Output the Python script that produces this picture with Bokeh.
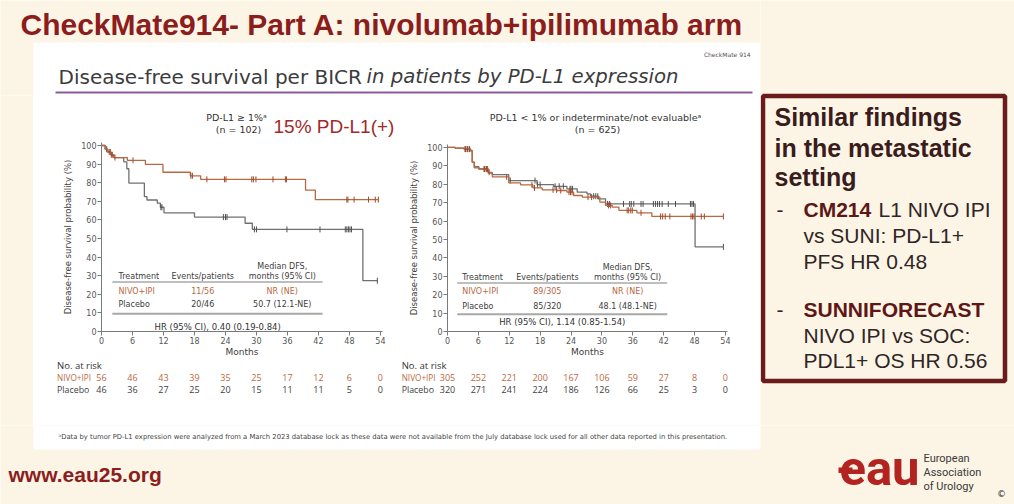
import numpy as np
from bokeh.plotting import figure
from bokeh.layouts import row, column
from bokeh.models import Range1d, Label, ColumnDataSource, FixedTicker
from bokeh.core.properties import value
from bokeh.embed import file_html
from bokeh.resources import INLINE

CREAM = "#fcf5e6"
WHITE = "#ffffff"
MAROON = "#8b1d1d"
NIVO_C = "#b8693f"
NIVO_TICK = "#a2482a"
PBO_C = "#707070"
PBO_TICK = "#505050"
TXT = "#404040"
SANS = "DejaVu Sans"
OPEN = "Open Sans"
ARIAL = "Liberation Sans"

# ---------------- data ----------------
month_ticks = [0, 6, 12, 18, 24, 30, 36, 42, 48, 54]
pct_ticks = [0, 10, 20, 30, 40, 50, 60, 70, 80, 90, 100]

# PD-L1 >= 1% : Kaplan-Meier steps (months, DFS %)
pos_nivo_t = [0, 0.7, 1.2, 1.8, 2.4, 5.0, 8.5, 11.9, 17.2, 19.2, 39.5, 41.4, 53.6]
pos_nivo_s = [100, 98.0, 96.5, 95.0, 93.5, 92.0, 89.8, 85.6, 83.7, 81.8, 76.0, 70.9, 70.9]
pos_nivo_cens = [1.5, 1.9, 2.1, 2.6, 6.1, 17.3, 17.6, 20.4, 23.8, 24.1, 29.1, 29.4,
                 29.9, 33.2, 35.6, 35.8, 47.5, 47.7, 48.9, 51.7, 53.0, 53.6]
pos_pbo_t = [0, 0.7, 1.2, 1.8, 2.4, 4.3, 4.9, 5.3, 8.3, 8.8, 10.8, 11.4, 12.1, 18.0,
             27.8, 29.2, 50.6, 53.4]
pos_pbo_s = [100, 98.0, 96.5, 95.0, 93.5, 91.2, 87.5, 79.8, 72.5, 70.7, 69.0, 66.8,
             63.8, 61.5, 58.2, 54.9, 27.3, 27.3]
pos_pbo_cens = [1.0, 1.7, 11.5, 11.7, 23.6, 24.0, 24.3, 29.6, 30.0, 35.9, 42.3, 47.2,
                47.5, 47.8, 48.1, 48.4, 53.4]

# PD-L1 < 1% or indeterminate / not evaluable
neg_nivo_t = [0, 1.5, 3.2, 4.5, 4.8, 5.2, 6.1, 7.9, 8.7, 11.9, 14.2, 16.6, 18.4, 21.3,
              23.2, 24.5, 26.2, 29.6, 30.7, 32.0, 33.3, 36.8, 39.7, 53.6]
neg_nivo_s = [100, 99.6, 99.1, 98.2, 92.0, 88.9, 88.3, 86.5, 84.0, 80.8, 79.7, 78.0,
              77.0, 76.6, 75.7, 73.9, 73.0, 70.3, 68.5, 67.6, 65.8, 64.5, 62.5, 62.5]
neg_nivo_cens = [3.5, 3.9, 4.2, 7.2, 7.5, 7.8, 8.1, 11.5, 16.4, 16.9, 20.5, 21.2, 22.0,
                 23.6, 23.9, 24.2, 27.3, 28.0, 31.3, 31.7, 34.9, 35.2, 35.6, 35.9, 37.6,
                 41.4, 41.8, 42.3, 43.2, 47.3, 47.6, 47.9, 49.3, 49.9, 53.6]
neg_pbo_t = [0, 1.5, 3.2, 4.5, 4.8, 5.2, 6.1, 7.9, 8.7, 11.9, 17.4, 20.6, 23.2, 25.2,
             27.1, 27.8, 29.3, 30.7, 48.1, 53.6]
neg_pbo_s = [100, 99.6, 99.1, 98.2, 92.0, 89.5, 88.3, 86.0, 85.2, 82.0, 79.8, 78.9,
             77.5, 75.7, 74.8, 73.5, 72.1, 69.3, 46.0, 46.0]
neg_pbo_cens = [3.4, 3.8, 4.3, 7.1, 7.6, 12.2, 17.0, 17.5, 18.0, 20.9, 21.7, 22.5, 23.8,
                24.0, 24.3, 28.4, 28.8, 29.2, 31.1, 31.5, 34.2, 35.4, 35.7, 36.2, 37.6,
                38.0, 40.0, 40.4, 40.8, 41.2, 41.7, 42.9, 44.3, 47.2, 47.5, 47.8, 53.6]

# numbers at risk
pos_risk_nivo = [56, 46, 43, 39, 35, 25, 17, 12, 6, 0]
pos_risk_pbo = [46, 36, 27, 25, 20, 15, 11, 11, 5, 0]
neg_risk_nivo = [305, 252, 221, 200, 167, 106, 59, 27, 8, 0]
neg_risk_pbo = [320, 271, 241, 224, 186, 126, 66, 25, 3, 0]

# summary tables
pos_table = [("NIVO+IPI", "11/56", "NR (NE)"), ("Placebo", "20/46", "50.7 (12.1-NE)")]
neg_table = [("NIVO+IPI", "89/305", "NR (NE)"), ("Placebo", "85/320", "48.1 (48.1-NE)")]
pos_hr = "HR (95% CI), 0.40 (0.19-0.84)"
neg_hr = "HR (95% CI), 1.14 (0.85-1.54)"

X_END = 54.4
Y_END = 101.6


# ---------------- helpers ----------------
def bare(p, bg):
    p.outline_line_color = None
    p.background_fill_color = bg
    p.border_fill_color = bg
    p.frame_align = False
    return p


def decor(w, h, x0, y0, bg=CREAM):
    """Figure whose data coordinates are page pixels (y downward)."""
    p = figure(width=w, height=h, x_range=Range1d(x0, x0 + w), y_range=Range1d(y0 + h, y0),
               output_backend="svg", toolbar_location=None, min_border=0,
               x_axis_type=None, y_axis_type=None)
    return bare(p, bg)


def txt(p, x, y, s, size, color, font=SANS, style="normal", align="left"):
    p.text(x=[x], y=[y], text=[s], text_font=value(font), text_font_size=value(f"{size}px"),
           text_color=color, text_font_style=value(style), text_align=value(align),
           text_baseline=value("middle"))


def lab(p, x, y, s, size, color, style="normal", align="left", font=SANS):
    p.add_layout(Label(x=x, y=y, text=s, text_font=font, text_font_size=f"{size}px",
                       text_color=color, text_font_style=style, text_align=align,
                       text_baseline="middle"))


def step_value(t, s, c):
    idx = np.searchsorted(np.asarray(t), np.asarray(c), side="right") - 1
    return np.asarray(s)[idx]


def km_chart(w, h, ml, mr, mt, mb, arms, table, hr, geo):
    p = figure(width=w, height=h, x_range=Range1d(0, X_END), y_range=Range1d(0, Y_END),
               output_backend="svg", toolbar_location=None,
               min_border_left=ml, min_border_right=mr, min_border_top=mt, min_border_bottom=mb)
    bare(p, WHITE)
    p.xgrid.visible = False
    p.ygrid.visible = False
    p.xaxis.ticker = FixedTicker(ticks=month_ticks)
    p.yaxis.ticker = FixedTicker(ticks=pct_ticks)
    p.axis.minor_tick_line_color = None
    p.axis.major_tick_in = 0
    p.axis.major_tick_out = 4
    p.axis.axis_line_color = "#7a7a7a"
    p.axis.major_tick_line_color = "#7a7a7a"
    p.axis.major_label_text_font = SANS
    p.axis.major_label_text_font_size = "8px"
    p.axis.major_label_text_color = "#555555"
    p.axis.major_label_standoff = 1
    p.xaxis.axis_label = "Months"
    p.yaxis.axis_label = "Disease-free survival probability (%)"
    p.axis.axis_label_text_font = SANS
    p.axis.axis_label_text_font_style = "normal"
    p.axis.axis_label_text_color = TXT
    p.xaxis.axis_label_text_font_size = "9px"
    p.yaxis.axis_label_text_font_size = "8.5px"
    p.xaxis.axis_label_standoff = 0
    p.yaxis.axis_label_standoff = 5

    # survival curves: placebo underneath, NIVO+IPI on top
    for t, s, cens, col, tick_col in arms:
        p.step(x=t, y=s, mode="after", line_color=col, line_width=1.3)
        p.scatter(x=cens, y=step_value(t, s, cens), marker="dash", angle=np.pi / 2,
                  size=6, line_color=tick_col, line_width=1.0)

    # summary table inside the plot area
    tx, ex, mx, lx0, lx1, y_md, y_hd, y_l1, y_r1, y_r2, y_l2, y_hr, hx = geo
    lab(p, mx, y_md, "Median DFS,", 8, TXT, align="center")
    lab(p, mx, y_hd, "months (95% CI)", 8, TXT, align="center")
    lab(p, tx, y_hd, "Treatment", 8, TXT)
    lab(p, ex, y_hd, "Events/patients", 8, TXT, align="center")
    p.segment(x0=[lx0], y0=[y_l1], x1=[lx1], y1=[y_l1], line_color="#a8a8a8", line_width=1.5)
    for (name, ev, med), yy, col in zip(table, [y_r1, y_r2], [NIVO_C, TXT]):
        lab(p, tx, yy, name, 8, col)
        lab(p, ex, yy, ev, 8, col, align="center")
        lab(p, mx, yy, med, 8, col, align="center")
    p.segment(x0=[lx0], y0=[y_l2], x1=[lx1], y1=[y_l2], line_color="#a8a8a8", line_width=2)
    lab(p, hx, y_hr, hr, 8.5, "#333333", align="center")
    return p


def risk_table(w, ml, mr, y0, h, label_x, nivo_vals, pbo_vals):
    """Numbers at risk, on the same month scale as the chart above it."""
    k = (w - ml - mr) / X_END
    p = figure(width=w, height=h, x_range=Range1d(-ml / k, X_END + mr / k),
               y_range=Range1d(y0 + h, y0), output_backend="svg", toolbar_location=None,
               min_border=0, x_axis_type=None, y_axis_type=None)
    bare(p, WHITE)
    txt(p, label_x, 365, "No. at risk", 9.5, "#333333", font=OPEN)
    txt(p, label_x, 377, "NIVO+IPI", 8.2, NIVO_C, font=OPEN)
    txt(p, label_x, 389, "Placebo", 8.8, TXT, font=OPEN)
    for vals, yy, col in [(nivo_vals, 377, NIVO_C), (pbo_vals, 389, TXT)]:
        src = ColumnDataSource(dict(x=month_ticks, y=[yy] * len(month_ticks),
                                    text=[str(v) for v in vals]))
        p.text(x="x", y="y", text="text", source=src, text_align=value("center"),
               text_baseline=value("middle"), text_font=value(OPEN),
               text_font_size=value("9px"), text_color=col)
    return p


# ---------------- header ----------------
head = decor(760, 95, 0, 0)
head.quad(left=[33], right=[760], top=[42], bottom=[95], fill_color=WHITE, line_color=None)
txt(head, 20, 24, "CheckMate914- Part A: nivolumab+ipilimumab arm", 30, MAROON,
    font=ARIAL, style="bold")
txt(head, 752, 54, "CheckMate  914", 6, "#555555", align="right")
txt(head, 58, 76, "Disease-free survival per BICR", 20, "#3c3c3c")
txt(head, 366, 76, "in patients by PD-L1 expression", 19.7, "#3c3c3c", style="italic")
head.segment(x0=[55], y0=[92], x1=[752], y1=[92], line_color="#8a5c9c", line_width=2)

# ---------------- left chart: PD-L1 >= 1% ----------------
strip = decor(33, 330, 0, 95)

t1 = decor(367, 42, 33, 95, WHITE)
txt(t1, 236, 117, "PD-L1 \u2265 1%\u1d43", 9.5, "#333333", align="center")
txt(t1, 238, 129, "(n = 102)", 9.5, "#333333", align="center")
txt(t1, 273, 126, "15% PD-L1(+)", 19, "#9e2a2b", font=ARIAL)

c1 = km_chart(
    367, 222, 68, 18, 5, 26,
    [(pos_pbo_t, pos_pbo_s, pos_pbo_cens, PBO_C, PBO_TICK),
     (pos_nivo_t, pos_nivo_s, pos_nivo_cens, NIVO_C, NIVO_TICK)],
    pos_table, pos_hr,
    (3.3, 19.6, 35.0, 2.1, 42.8, 35.1, 29.8, 26.6, 21.3, 14.4, 9.6, 2.4, 22.5))
r1 = risk_table(367, 68, 18, 359, 66, -8.6, pos_risk_nivo, pos_risk_pbo)

# ---------------- right chart: PD-L1 < 1% ----------------
t2 = decor(360, 42, 400, 95, WHITE)
txt(t2, 595, 117, "PD-L1 < 1% or indeterminate/not evaluable\u1d43", 9.5, "#333333",
    align="center")
txt(t2, 597, 129, "(n = 625)", 9.5, "#333333", align="center")

c2 = km_chart(
    360, 222, 47, 33, 7, 27,
    [(neg_pbo_t, neg_pbo_s, neg_pbo_cens, PBO_C, PBO_TICK),
     (neg_nivo_t, neg_nivo_s, neg_nivo_cens, NIVO_C, NIVO_TICK)],
    neg_table, neg_hr,
    (2.85, 19.4, 35.0, 1.9, 42.7, 35.0, 29.6, 26.3, 21.5, 13.5, 9.4, 4.9, 22.3))
r2 = risk_table(360, 47, 33, 359, 66, -8.9, neg_risk_nivo, neg_risk_pbo)

# ---------------- side box ----------------
side = decor(254, 425, 760, 0)
side.quad(left=[762.5], right=[1004.5], top=[95.5], bottom=[380.5], fill_color=None,
          line_color="#6b1b1b", line_width=4.5)
HEAD_C = "#3a1c1c"
BODY_C = "#2f2525"
BOLD_C = "#5e1717"
for yy, s in [(116, "Similar findings"), (147, "in the metastatic"), (176, "setting")]:
    txt(side, 774, yy, s, 25, HEAD_C, font=ARIAL, style="bold")
txt(side, 776, 209, "-", 21, BODY_C, font=ARIAL)
txt(side, 803, 209, "CM214", 21, BOLD_C, font=ARIAL, style="bold")
txt(side, 878, 209, "L1 NIVO IPI", 21, BODY_C, font=ARIAL)
txt(side, 803, 235, "vs SUNI: PD-L1+", 21, BODY_C, font=ARIAL)
txt(side, 803, 261, "PFS HR 0.48", 21, BODY_C, font=ARIAL)
txt(side, 776, 309, "-", 21, BODY_C, font=ARIAL)
txt(side, 803, 309, "SUNNIFORECAST", 21, BOLD_C, font=ARIAL, style="bold")
txt(side, 803, 335, "NIVO IPI vs SOC:", 21, BODY_C, font=ARIAL)
txt(side, 803, 360, "PDL1+ OS HR 0.56", 21, BODY_C, font=ARIAL)

# ---------------- footer ----------------
foot = decor(1014, 79, 0, 425)
foot.quad(left=[33], right=[760], top=[425], bottom=[449], fill_color=WHITE, line_color=None)
txt(foot, 58, 436,
    "\u1d43Data by tumor PD-L1  expression were analyzed from a March 2023  database lock as "
    "these data were not available from the July database lock used for all other data "
    "reported in this presentation.", 6.8, "#444444")
txt(foot, 8, 474, "www.eau25.org", 21, MAROON, font=ARIAL, style="bold")
# society logo
foot.quad(left=[838], right=[852], top=[467], bottom=[472.5], fill_color="#b3231f",
          line_color=None)
txt(foot, 879, 468, "eau", 49, "#b3231f", font="Roboto", style="bold", align="center")
for yy, s in [(458, "European"), (472, "Association"), (486, "of Urology")]:
    txt(foot, 923, yy, s, 11, "#3a3a3a", font="Roboto")
txt(foot, 1001, 493, "\u00a9", 9, "#222222", align="center")

left_block = column(t1, c1, r1)
right_block = column(t2, c2, r2)
layout = column(row(column(head, row(strip, left_block, right_block)), side), foot)

with open("out.html", "w") as f:
    f.write(file_html(layout, INLINE))
